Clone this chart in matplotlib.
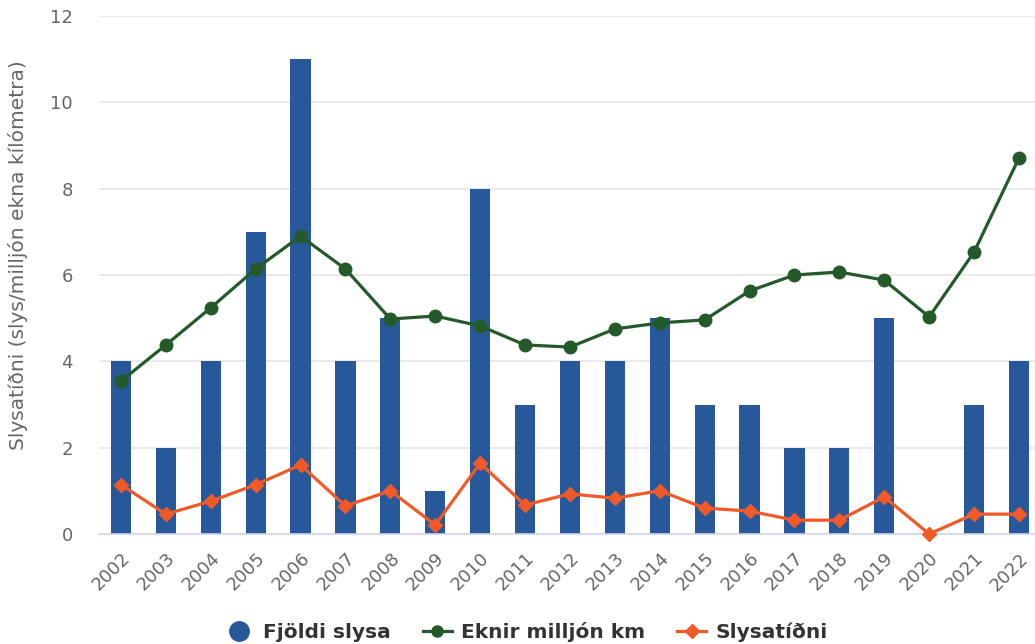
import matplotlib
matplotlib.use("Agg")
import matplotlib.pyplot as plt
from matplotlib.lines import Line2D
import numpy as np

years = ["2002", "2003", "2004", "2005", "2006", "2007", "2008", "2009", "2010", "2011",
         "2012", "2013", "2014", "2015", "2016", "2017", "2018", "2019", "2020", "2021", "2022"]
fjoldi_slysa = [4, 2, 4, 7, 11, 4, 5, 1, 8, 3, 4, 4, 5, 3, 3, 2, 2, 5, 0, 3, 4]
eknir_km = [3.54, 4.38, 5.24, 6.14, 6.90, 6.14, 4.98, 5.05, 4.82, 4.38, 4.33,
            4.75, 4.89, 4.96, 5.63, 6.00, 6.07, 5.88, 5.03, 6.53, 8.71]
slysatidni = [1.14, 0.46, 0.76, 1.14, 1.60, 0.65, 1.00, 0.21, 1.64, 0.67, 0.93,
              0.83, 1.00, 0.60, 0.53, 0.32, 0.32, 0.86, 0.00, 0.46, 0.46]

BLUE = "#26589a"
GREEN = "#245a2a"
ORANGE = "#f05a28"

W, H = 1035, 644
fig = plt.figure(figsize=(W / 100, H / 100), dpi=100)
left_px, right_px, top_px, bot_px = 98.5, 1035, 16, 534
ax = fig.add_axes([left_px / W, (H - bot_px) / H, (right_px - left_px) / W, (bot_px - top_px) / H])

x = np.arange(len(years))
ax.bar(x, fjoldi_slysa, width=0.45, color=BLUE, zorder=2)
ax.plot(x, eknir_km, color=GREEN, lw=2.3, marker="o", markersize=9, zorder=3)
ax.plot(x, slysatidni, color=ORANGE, lw=2.3, marker="D", markersize=7, zorder=4, clip_on=False)

step = 44.9
ax.set_xlim(-0.5, -0.5 + (right_px - left_px) / step)
ax.set_ylim(0, 12)
ax.set_yticks(range(0, 13, 2))
ax.yaxis.grid(True, color="#e6e6e6", lw=1.2, zorder=0)
ax.set_axisbelow(True)
for s in ["left", "right", "top"]:
    ax.spines[s].set_visible(False)
ax.spines["bottom"].set_color("#ccd6eb")
ax.spines["bottom"].set_linewidth(1.2)
ax.tick_params(axis="y", length=0, pad=18.5, labelsize=13, labelcolor="#666666")
ax.tick_params(axis="x", length=0, pad=11, labelsize=13, labelcolor="#666666")
ax.set_xticks(x)
ax.set_xticklabels(years, rotation=45, ha="right", rotation_mode="anchor")
ax.set_ylabel("Slysatíðni (slys/milljón ekna kílómetra)", fontsize=14.5, color="#666666")
ax.yaxis.set_label_coords(-70 / (right_px - left_px), (bot_px - 255) / (bot_px - top_px))

handles = [
    Line2D([], [], ls="none", marker="o", markersize=14, color=BLUE),
    Line2D([], [], color=GREEN, lw=2.3, marker="o", markersize=8),
    Line2D([], [], color=ORANGE, lw=2.3, marker="D", markersize=7),
]
labels = ["Fjöldi slysa", "Eknir milljón km", "Slysatíðni"]
leg = fig.legend(handles, labels, loc="center", bbox_to_anchor=(526 / W, 1 - 632 / H),
                 ncol=3, frameon=False, handlelength=1.45, columnspacing=1.6, handletextpad=0.45,
                 borderaxespad=0, prop={"weight": "bold", "size": 14.5})
for t in leg.get_texts():
    t.set_color("#333333")

fig.savefig("out.png", dpi=100)
